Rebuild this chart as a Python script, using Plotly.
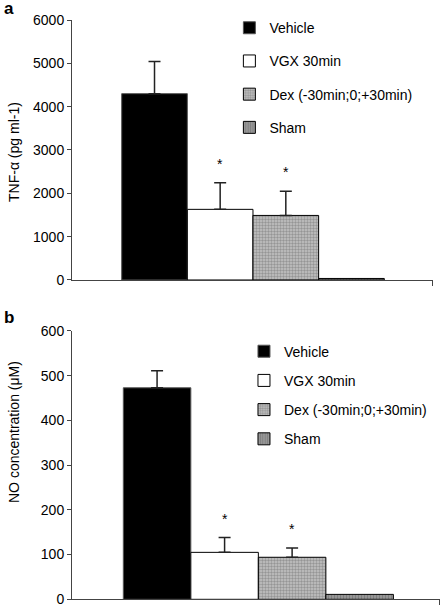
import plotly.graph_objects as go

# ---- data ----
groups = ["Vehicle", "VGX 30min", "Dex (-30min;0;+30min)", "Sham"]
tnf_mean = [4300, 1630, 1490, 35]
tnf_err = [740, 615, 560, 0]
no_mean = [473, 105, 94, 11]
no_err = [38, 33, 21, 0]
sig = ["", "*", "*", ""]
tnf_ticks = [0, 1000, 2000, 3000, 4000, 5000, 6000]
no_ticks = [0, 100, 200, 300, 400, 500, 600]

# ---- styles ----
FONT = "Liberation Sans, Arial, sans-serif"
styles = [
    dict(color="#000000", line=dict(color="#555555", width=1)),
    dict(color="#ffffff", line=dict(color="#000000", width=1)),
    dict(color="#a8a8a8", line=dict(color="#000000", width=1),
         pattern=dict(shape=".", size=3, solidity=0.5, fgcolor="#666666", bgcolor="#c4c4c4")),
    dict(color="#8a8a8a", line=dict(color="#000000", width=1),
         pattern=dict(shape="|", size=3, solidity=0.4, fgcolor="#666666", bgcolor="#999999")),
]

fig = go.Figure()

panels = [
    (tnf_mean, tnf_err, "x", "y", "legend"),
    (no_mean, no_err, "x2", "y2", "legend2"),
]
for means, errs, xa, ya, lg in panels:
    for i, name in enumerate(groups):
        fig.add_trace(go.Bar(
            x=[i], y=[means[i]], width=1, name=name,
            marker=styles[i],
            error_y=dict(type="data", array=[errs[i]], arrayminus=[0], symmetric=False,
                         visible=errs[i] > 0, color="#222222", thickness=1.5, width=6),
            xaxis=xa, yaxis=ya, legend=lg, legendgroup=f"{lg}{i}", showlegend=True,
        ))
        if sig[i]:
            fig.add_annotation(x=i, y=means[i] + errs[i], xref=xa, yref=ya, text=sig[i],
                               showarrow=False, yanchor="bottom", yshift=9,
                               font=dict(size=14, color="#000000", family=FONT))

axis_common = dict(showgrid=False, zeroline=False, showline=True, linecolor="#444444",
                   linewidth=1, ticks="outside", tickcolor="#444444", tickwidth=1,
                   automargin=False)

fig.update_layout(
    width=448, height=608,
    margin=dict(l=0, r=0, t=0, b=0, autoexpand=False),
    paper_bgcolor="white", plot_bgcolor="white",
    barmode="overlay",
    font=dict(family=FONT, size=14, color="#000000"),
    xaxis=dict(domain=[0.1607, 0.9665], range=[-1.257, 4.242], anchor="y",
               tickvals=[4.24], ticklen=5, showticklabels=False, **axis_common),
    yaxis=dict(domain=[0.5395, 0.9671], range=[0, 6000], anchor="x",
               tickvals=tnf_ticks, ticklen=4, tickfont=dict(size=14), **axis_common),
    xaxis2=dict(domain=[0.1607, 0.9821], range=[-1.26, 4.19], anchor="y2",
                tickvals=[4.185], ticklen=5, showticklabels=False, **axis_common),
    yaxis2=dict(domain=[0.0143, 0.4556], range=[0, 600], anchor="x2",
                tickvals=no_ticks, ticklen=4, tickfont=dict(size=14), **axis_common),
    legend=dict(x=0.512, y=0.98, xanchor="left", yanchor="top", tracegroupgap=12,
                bgcolor="rgba(0,0,0,0)", font=dict(size=14)),
    legend2=dict(x=0.5446, y=0.448, xanchor="left", yanchor="top", tracegroupgap=8,
                 bgcolor="rgba(0,0,0,0)", font=dict(size=14)),
)

# axis titles and panel labels
fig.add_annotation(x=14 / 448, y=1 - 152 / 608, xref="paper", yref="paper",
                   text="TNF-α (pg ml-1)", textangle=-90, showarrow=False,
                   xanchor="center", yanchor="middle", font=dict(size=14))
fig.add_annotation(x=14 / 448, y=1 - 432 / 608, xref="paper", yref="paper",
                   text="NO concentration (μM)", textangle=-90, showarrow=False,
                   xanchor="center", yanchor="middle", font=dict(size=14))
fig.add_annotation(x=2 / 448, y=1 - 8 / 608, xref="paper", yref="paper", text="<b>a</b>",
                   showarrow=False, xanchor="left", yanchor="middle", font=dict(size=17))
fig.add_annotation(x=2 / 448, y=1 - 317 / 608, xref="paper", yref="paper", text="<b>b</b>",
                   showarrow=False, xanchor="left", yanchor="middle", font=dict(size=17))

fig.write_html("out.html", config={"displayModeBar": False},
               post_script="document.body.style.margin='0';document.body.style.padding='0';")
